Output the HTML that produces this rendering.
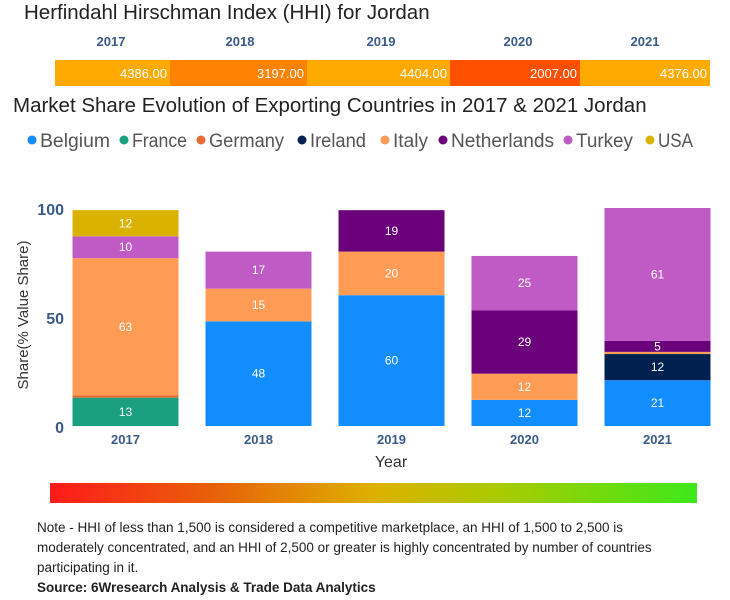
<!DOCTYPE html>
<html><head><meta charset="utf-8"><style>
body{margin:0;width:730px;height:600px;background:#fff;font-family:"Liberation Sans Narrow","Liberation Sans",sans-serif;position:relative;overflow:hidden}
.abs{position:absolute;white-space:nowrap}
</style></head><body>
<div class="abs" style="left:24px;top:1px;font-size:20.5px;color:#222">Herfindahl Hirschman Index (HHI) for Jordan</div>
<svg id="hhi" class="abs" style="left:0;top:30px" width="730" height="60"></svg>
<div class="abs" style="left:13px;top:94px;font-size:20.5px;color:#222">Market Share Evolution of Exporting Countries in 2017 &amp; 2021 Jordan</div>
<svg id="chart" class="abs" style="left:0;top:125px" width="730" height="350"></svg>
<div class="abs" style="left:50px;top:483px;width:647px;height:20px;background:linear-gradient(to right,#ff1a1a,#e8600a 25%,#ddb000 50%,#a8cc00 70%,#3de81a)"></div>
<div class="abs" style="left:37px;top:518px;font-size:13.5px;line-height:20px;color:#222">Note - HHI of less than 1,500 is considered a competitive marketplace, an HHI of 1,500 to 2,500 is<br>moderately concentrated, and an HHI of 2,500 or greater is highly concentrated by number of countries<br>participating in it.<br><b>Source: 6Wresearch Analysis &amp; Trade Data Analytics</b></div>
<script>
const hhiYears=["2017","2018","2019","2020","2021"];
const hhiValues=[4386,3197,4404,2007,4376];
const hhiColors=["#ffaa00","#ff8200","#ffaa00","#ff5000","#ffaa00"];
const categories=["2017","2018","2019","2020","2021"];
const seriesNames=["Belgium","France","Germany","Ireland","Italy","Netherlands","Turkey","USA"];
const seriesColors=["#118dff","#1aa07e","#e66c37","#002050","#fe9c56","#6b007b","#c05bc6","#d9b300"];
const belgium=[0,48,60,12,21];
const france=[13,0,0,0,0];
const germany=[1,0,0,0,0];
const ireland=[0,0,0,0,12];
const italy=[63,15,20,12,1];
const netherlands=[0,0,19,29,5];
const turkey=[10,17,0,25,61];
const usa=[12,0,0,0,0];
const yTicks=[0,50,100];
const series=[belgium,france,germany,ireland,italy,netherlands,turkey,usa];
const NS="http://www.w3.org/2000/svg";
function mk(p,t,a){const e=document.createElementNS(NS,t);for(const k in a)e.setAttribute(k,a[k]);p.appendChild(e);return e;}
const hs=document.getElementById('hhi');
const bounds=[55,170,307,450,580,710];
hhiYears.forEach((y,i)=>{
 const x0=bounds[i],x1=bounds[i+1];
 const r=mk(hs,'rect',{x:x0,y:30,width:x1-x0,height:26,fill:hhiColors[i]});
 
 
 const t=mk(hs,'text',{x:x1-3,y:48,'text-anchor':'end','font-size':13,fill:'#fff'});t.textContent=hhiValues[i].toFixed(2);
 
 
 const yl=mk(hs,'text',{x:[111,240,381,518,645][i],y:16,'text-anchor':'middle','font-size':13,'font-weight':'bold',fill:'#3b5a8a'});yl.textContent=y;
 
 
});
const c=document.getElementById('chart');
const lx=[32,124,201,302,385,443,568,650];
const lw=[70,55,75,56,35,103,57,35];
seriesNames.forEach((n,i)=>{
 const g=mk(c,'g',{});
 
 
 mk(g,'circle',{cx:lx[i],cy:15,r:4.5,fill:seriesColors[i]});
 const t=mk(g,'text',{x:lx[i]+8,y:22,'font-size':19,fill:'#555',textLength:lw[i],lengthAdjust:'spacingAndGlyphs'});t.textContent=n;
});
const y0=301,pxPer=2.18;
const yScale=v=>y0-v*pxPer;
const xCenter=i=>125.5+i*133;
const bw=106;
yTicks.forEach(v=>{
 const t=mk(c,'text',{x:64,y:yScale(v)+7,'text-anchor':'end','font-size':16,'font-weight':'bold',fill:'#3b5a8a'});t.textContent=v;
 
 
});
const yt=mk(c,'text',{transform:'translate(28,190) rotate(-90)','text-anchor':'middle','font-size':15,fill:'#333'});yt.textContent='Share(% Value Share)';


const xt=mk(c,'text',{x:391,y:342,'text-anchor':'middle','font-size':16,fill:'#333'});xt.textContent='Year';


categories.forEach((cat,i)=>{
 let acc=0;
 series.forEach((s,k)=>{
  const v=s[i];if(!v)return;
  const top=yScale(acc+v),bot=yScale(acc);
  const r=mk(c,'rect',{x:xCenter(i)-bw/2,y:top,width:bw,height:bot-top,fill:seriesColors[k]});
  
  
  if(v>=3){const t=mk(c,'text',{x:xCenter(i),y:(top+bot)/2+4,'text-anchor':'middle','font-size':12,fill:'#fff'});t.textContent=v;
   
   }
  acc+=v;
 });
 const t=mk(c,'text',{x:xCenter(i),y:319,'text-anchor':'middle','font-size':13,'font-weight':'bold',fill:'#3b5a8a'});t.textContent=cat;
 
 
});
</script>
</body></html>
